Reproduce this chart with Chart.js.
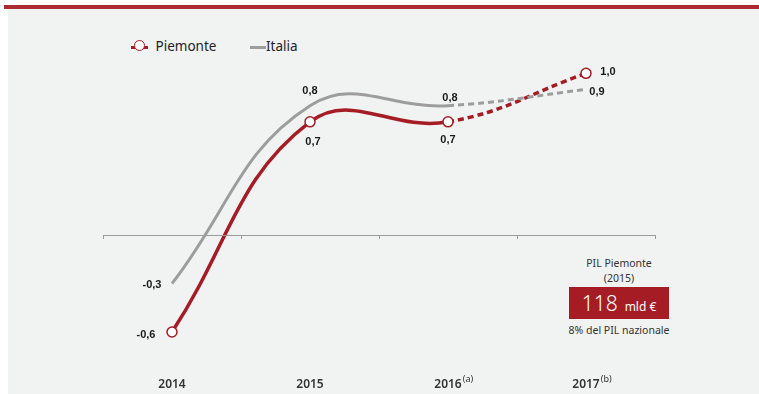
<!DOCTYPE html>
<html lang="it">
<head>
<meta charset="utf-8">
<title>PIL Piemonte e Italia</title>
<script src="https://cdn.jsdelivr.net/npm/chart.js@4"></script>
<style>
  html, body { margin: 0; padding: 0; background: #fff; }
  body { width: 759px; height: 394px; position: relative; overflow: hidden; font-family: "Noto Sans", sans-serif; }
  .topbar { position: absolute; left: 4px; top: 5px; width: 755px; height: 4px; background: #ad2a32; }
  .panel { position: absolute; left: 8px; top: 9px; width: 751px; height: 385px; background: #f1f2f2; }
  #chart { position: absolute; left: 0; top: 0; }
  .legend { position: absolute; top: 36px; font-size: 13.5px; color: #222; line-height: 20px; }
  .legend .line { display: inline-block; vertical-align: middle; height: 3px; }
  .legend .dot { position: absolute; top: 4px; width: 9px; height: 9px; border: 1.5px solid #a51c24; border-radius: 50%; background: #fff; }
  .pil { position: absolute; left: 549px; width: 140px; text-align: center; color: #333; font-size: 10.5px; white-space: nowrap; }
  .pil-box { position: absolute; left: 569px; top: 287px; width: 100px; height: 32px; background: #a51c24; color: #fff; text-align: center; line-height: 32px; }
  .pil-box .big { font-size: 21px; font-weight: 300; }
  .pil-box .unit { font-size: 12px; margin-left: 7px; }
</style>
</head>
<body>
<div class="topbar"></div>
<div class="panel"></div>

<div class="legend" style="left:131px;">
  <span class="line" style="width:17px;background:#a51c24;"></span>
  <span class="dot" style="left:3px;"></span>
  <span style="margin-left:4px;">Piemonte</span>
</div>
<div class="legend" style="left:250px;">
  <span class="line" style="width:16px;background:#9d9d9d;"></span><span>Italia</span>
</div>

<div class="pil" style="top:256px;">PIL Piemonte</div>
<div class="pil" style="top:271px;">(2015)</div>
<div class="pil-box"><span class="big">118</span><span class="unit">mld €</span></div>
<div class="pil" style="top:323px;">8% del PIL nazionale</div>

<canvas id="chart" width="759" height="394"></canvas>

<script>
const years = ['2014', '2015', '2016', '2017'];
const yearNotes = ['', '', '(a)', '(b)'];
const piemonte = [-0.6, 0.7, 0.7, 1.0];
const italia = [-0.3, 0.8, 0.8, 0.9];

const red = '#a51c24';
const grey = '#9d9d9d';

// where each value label sits relative to its point
const piemonteLabelPos = [
  { dx: -26, dy: 3 },
  { dx: 3, dy: 20 },
  { dx: 0, dy: 18 },
  { dx: 22, dy: -1 }
];
const italiaLabelPos = [
  { dx: -20, dy: 1 },
  { dx: 0, dy: -15 },
  { dx: 2, dy: -8 },
  { dx: 11, dy: 2 }
];

function fmt(v) {
  return v.toFixed(1).replace('.', ',');
}

// the forecast years are drawn dashed
const dashedAfter2016 = {
  borderDash: (ctx) => (ctx.p0DataIndex >= 2 ? [6, 4] : undefined)
};

const axisAndLabels = {
  id: 'axisAndLabels',
  afterDatasetsDraw(chart) {
    const ctx = chart.ctx;
    const x = chart.scales.x;
    const y = chart.scales.y;
    const y0 = y.getPixelForValue(0);

    // zero line with ticks between the years
    ctx.save();
    ctx.strokeStyle = '#9a9a9a';
    ctx.lineWidth = 1;
    ctx.beginPath();
    ctx.moveTo(x.left, y0 + 0.5);
    ctx.lineTo(x.right, y0 + 0.5);
    const step = (x.right - x.left) / years.length;
    for (let i = 0; i <= years.length; i++) {
      const tx = Math.round(x.left + i * step) + 0.5;
      ctx.moveTo(tx, y0);
      ctx.lineTo(tx, y0 + 4);
    }
    ctx.stroke();

    // year labels with footnote marks
    ctx.fillStyle = '#333';
    ctx.textBaseline = 'alphabetic';
    years.forEach((yr, i) => {
      const cx = x.getPixelForValue(i);
      ctx.font = '600 12px "Noto Sans", sans-serif';
      const w = ctx.measureText(yr).width;
      ctx.textAlign = 'left';
      ctx.fillText(yr, cx - w / 2, 388);
      if (yearNotes[i]) {
        ctx.font = '9px "Noto Sans", sans-serif';
        ctx.fillText(yearNotes[i], cx + w / 2 + 1, 382);
      }
    });

    // value labels
    ctx.font = 'bold 11px "Liberation Sans", Arial, sans-serif';
    ctx.fillStyle = '#1a1a1a';
    ctx.textAlign = 'center';
    ctx.textBaseline = 'middle';
    const draw = (data, pos) => {
      data.forEach((v, i) => {
        const px = x.getPixelForValue(i) + pos[i].dx;
        const py = y.getPixelForValue(v) + pos[i].dy;
        ctx.fillText(fmt(v), px, py);
      });
    };
    draw(piemonte, piemonteLabelPos);
    draw(italia, italiaLabelPos);
    ctx.restore();
  }
};

new Chart(document.getElementById('chart'), {
  type: 'line',
  data: {
    labels: years,
    datasets: [
      {
        label: 'Italia',
        data: italia,
        borderColor: grey,
        borderWidth: 3,
        pointRadius: 0,
        tension: 0.42,
        segment: dashedAfter2016
      },
      {
        label: 'Piemonte',
        data: piemonte,
        borderColor: red,
        borderWidth: 3.5,
        pointRadius: 5,
        pointBorderWidth: 1.5,
        pointBackgroundColor: '#fff',
        pointBorderColor: red,
        tension: 0.42,
        segment: dashedAfter2016
      }
    ]
  },
  options: {
    responsive: false,
    animation: false,
    layout: { padding: { left: 103, right: 104, top: 41, bottom: 13.5 } },
    plugins: { legend: { display: false }, tooltip: { enabled: false } },
    scales: {
      x: { display: false, offset: true },
      y: { display: false, min: -0.9, max: 1.2 }
    }
  },
  plugins: [axisAndLabels]
});
</script>
</body>
</html>
